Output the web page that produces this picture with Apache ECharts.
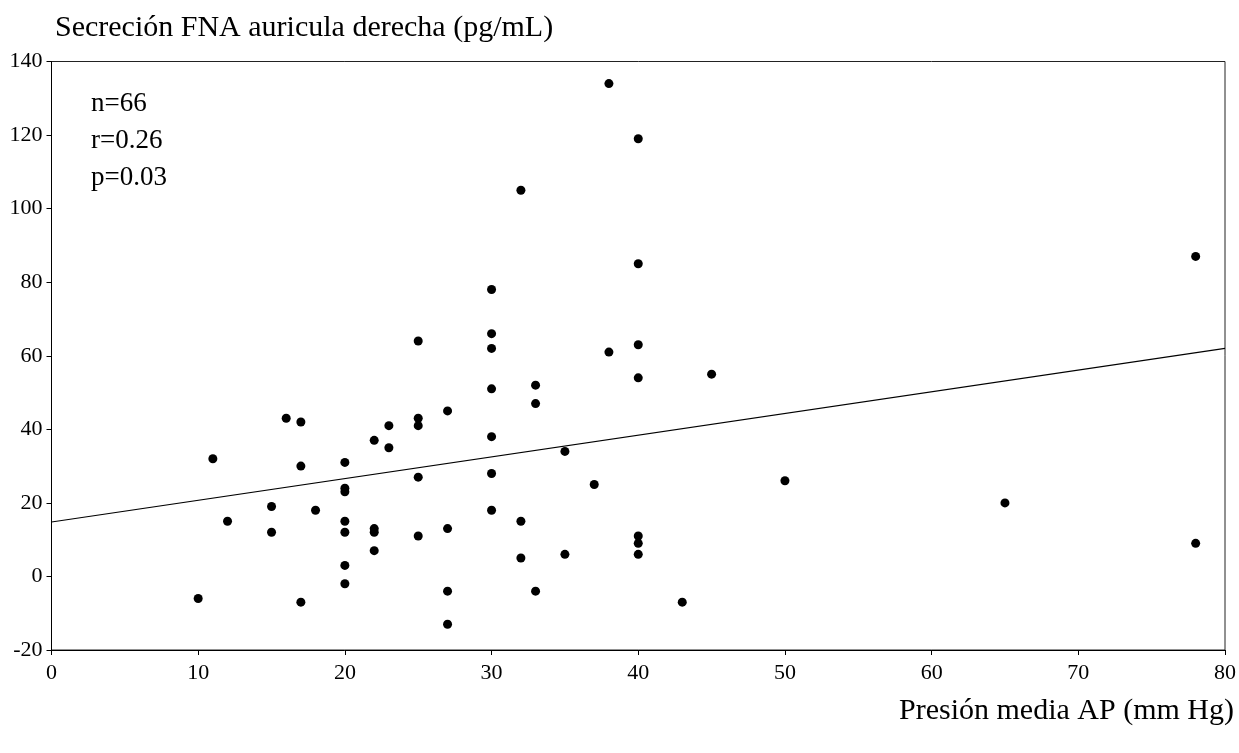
<!DOCTYPE html>
<html lang="es">
<head>
<meta charset="utf-8">
<title>Secreción FNA auricula derecha</title>
<script src="https://cdn.jsdelivr.net/npm/echarts@6/dist/echarts.min.js"></script>
<style>
  html, body { margin: 0; padding: 0; background: #fff; }
  #chart { width: 1239px; height: 753px; }
</style>
</head>
<body>
<div id="chart"></div>
<script>
// presion media AP (mm Hg) and FNA secretion (pg/mL)
var presion = [10, 11, 12, 15, 15, 16, 17, 17, 17, 18,
               20, 20, 20, 20, 20, 20, 20,
               22, 22, 22, 22, 23, 23,
               25, 25, 25, 25, 25,
               27, 27, 27, 27,
               30, 30, 30, 30, 30, 30, 30,
               32, 32, 32, 33, 33, 33, 35, 35, 37, 38, 38,
               40, 40, 40, 40, 40, 40, 40,
               43, 45, 50, 65, 78, 78];
var fna =     [-6, 32, 15, 19, 12, 43, 42, 30, -7, 18,
               31, 24, 23, 15, 12, 3, -2,
               37, 13, 12, 7, 41, 35,
               64, 43, 41, 27, 11,
               45, 13, -4, -13,
               78, 66, 62, 51, 38, 28, 18,
               105, 15, 5, 52, 47, -4, 34, 6, 25, 134, 61,
               119, 85, 63, 54, 11, 9, 6,
               -7, 55, 26, 20, 87, 9];

// regression line end points
var fitX = [0, 80];
var fitY = [14.8, 62.0];

var xTicks = { min: 0, max: 80, step: 10 };
var yTicks = { min: -20, max: 140, step: 20 };

var stats = ['n=66', 'r=0.26', 'p=0.03'];

var puntos = [];
for (var i = 0; i < presion.length; i++) {
  puntos.push([presion[i], fna[i]]);
}
var recta = [];
for (var j = 0; j < fitX.length; j++) {
  recta.push([fitX[j], fitY[j]]);
}

var serif = '"Liberation Serif", "Times New Roman", serif';

var chart = echarts.init(document.getElementById('chart'));
chart.setOption({
  animation: false,
  backgroundColor: '#fff',
  title: [{
    text: 'Secreción FNA auricula derecha (pg/mL)',
    left: 55, top: 13, padding: 0,
    textStyle: { fontFamily: serif, fontSize: 30, fontWeight: 'normal', color: '#000' }
  }, {
    text: 'Presión media AP (mm Hg)',
    right: 5, top: 696, padding: 0,
    textStyle: { fontFamily: serif, fontSize: 30, fontWeight: 'normal', color: '#000' }
  }],
  graphic: [{
    type: 'text', left: 91, top: 85,
    style: { text: stats.join('\n'), font: '27px ' + serif, fill: '#000', lineHeight: 37 }
  }],
  grid: {
    left: 51.5, right: 12.5, top: 61.5, bottom: 103,
    show: true, borderColor: '#222', borderWidth: 1
  },
  xAxis: {
    type: 'value', min: xTicks.min, max: xTicks.max, interval: xTicks.step,
    axisLine: { onZero: false, lineStyle: { color: '#000', width: 1 } },
    axisTick: { show: true, length: 5, lineStyle: { color: '#000' } },
    axisLabel: { margin: 12, color: '#000', fontFamily: serif, fontSize: 22 },
    splitLine: { show: false }
  },
  yAxis: {
    type: 'value', min: yTicks.min, max: yTicks.max, interval: yTicks.step,
    axisLine: { show: true, onZero: false, lineStyle: { color: '#000', width: 1 } },
    axisTick: { show: true, length: 5, lineStyle: { color: '#000' } },
    axisLabel: { margin: 9, color: '#000', fontFamily: serif, fontSize: 22 },
    splitLine: { show: false }
  },
  series: [{
    type: 'scatter',
    data: puntos,
    symbol: 'circle',
    symbolSize: 9,
    itemStyle: { color: '#000', opacity: 1 }
  }, {
    type: 'line',
    data: recta,
    showSymbol: false,
    lineStyle: { color: '#000', width: 1.2 }
  }]
});
</script>
</body>
</html>
